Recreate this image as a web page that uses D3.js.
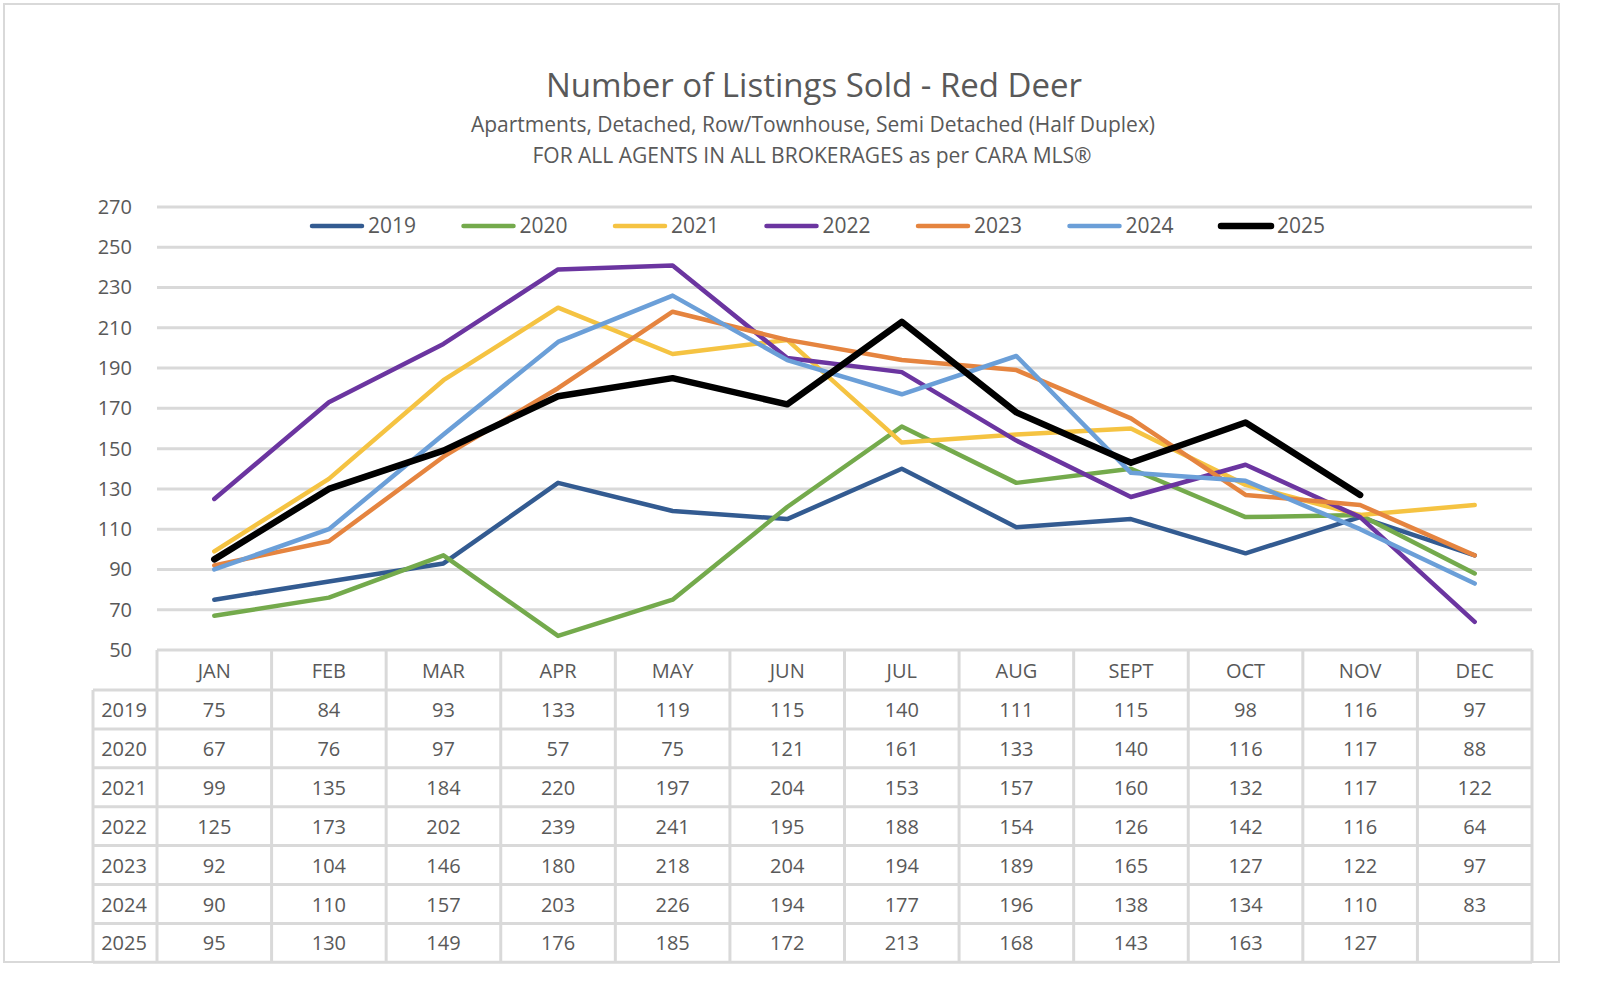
<!DOCTYPE html>
<html lang="en">
<head>
    <meta charset="UTF-8">
    <title>Number of Listings Sold - Red Deer</title>
    <script src="https://cdn.jsdelivr.net/npm/d3@7"></script>
    <style>
        html, body { margin: 0; background: #fff; overflow: hidden; }
        svg { display: block; }
        text { font-family: "Open Sans", "Noto Sans", sans-serif; fill: #595959; }
    </style>
</head>
<body>
    <svg width="1597" height="988"></svg>
    <script>
        var months = ["JAN","FEB","MAR","APR","MAY","JUN","JUL","AUG","SEPT","OCT","NOV","DEC"];
        var years = ["2019","2020","2021","2022","2023","2024","2025"];
        var yTicks = [50,70,90,110,130,150,170,190,210,230,250,270];

        var s2019 = [75,84,93,133,119,115,140,111,115,98,116,97];
        var s2020 = [67,76,97,57,75,121,161,133,140,116,117,88];
        var s2021 = [99,135,184,220,197,204,153,157,160,132,117,122];
        var s2022 = [125,173,202,239,241,195,188,154,126,142,116,64];
        var s2023 = [92,104,146,180,218,204,194,189,165,127,122,97];
        var s2024 = [90,110,157,203,226,194,177,196,138,134,110,83];
        var s2025 = [95,130,149,176,185,172,213,168,143,163,127,null];

        var colors = ["#335b91","#74aa4c","#f5c342","#6b35a0","#e5843f","#6b9fd8","#000000"];
        var series = [s2019,s2020,s2021,s2022,s2023,s2024,s2025];

        var svg = d3.select("svg");
        var plotLeft = 157, plotRight = 1532, plotTop = 207, plotBottom = 650;

        // outer frame
        svg.append("rect").attr("x",4).attr("y",4).attr("width",1555).attr("height",958)
            .attr("fill","none").attr("stroke","#d9d9d9").attr("stroke-width",2);

        svg.append("text").attr("x",814).attr("y",97).attr("text-anchor","middle")
            .attr("font-size","33px").text("Number of Listings Sold - Red Deer");
        svg.append("text").attr("x",813).attr("y",132).attr("text-anchor","middle")
            .attr("font-size","21px").text("Apartments, Detached, Row/Townhouse, Semi Detached (Half Duplex)");
        svg.append("text").attr("x",812).attr("y",163).attr("text-anchor","middle")
            .attr("font-size","21px").text("FOR ALL AGENTS IN  ALL BROKERAGES as per CARA MLS®");

        var x = d3.scaleBand().domain(months).range([plotLeft, plotRight]);
        var y = d3.scaleLinear().domain([50, 270]).range([plotBottom, plotTop]);

        // gridlines
        svg.append("g").selectAll("line").data(yTicks.slice(1)).enter().append("line")
            .attr("x1", plotLeft).attr("x2", plotRight)
            .attr("y1", function(d){ return y(d); }).attr("y2", function(d){ return y(d); })
            .attr("stroke", "#d9d9d9").attr("stroke-width", 3);

        var yAxis = svg.append("g").attr("transform","translate(" + (plotLeft - 25) + ",0)")
            .call(d3.axisLeft(y).tickValues(yTicks).tickSize(0).tickPadding(0));
        yAxis.select(".domain").remove();
        yAxis.selectAll("text").attr("font-size","20px").attr("fill","#595959")
            .attr("font-family","\"Open Sans\", sans-serif");

        // lines
        var line = d3.line()
            .defined(function(d){ return d != null; })
            .x(function(d, i){ return x(months[i]) + x.bandwidth()/2; })
            .y(function(d){ return y(d); });

        series.forEach(function(s, i) {
            svg.append("path").datum(s)
                .attr("fill","none")
                .attr("stroke", colors[i])
                .attr("stroke-width", i == 6 ? 6.5 : 4.5)
                .attr("stroke-linejoin","round")
                .attr("stroke-linecap","round")
                .attr("d", line);
        });

        // legend
        var legend = svg.append("g");
        years.forEach(function(yr, i) {
            var lx = 312 + i * 151.5;
            legend.append("line").attr("x1", lx).attr("x2", lx + 50).attr("y1", 226).attr("y2", 226)
                .attr("stroke", colors[i]).attr("stroke-width", i == 6 ? 6.5 : 4.5)
                .attr("stroke-linecap","round");
            legend.append("text").attr("x", lx + 56).attr("y", 233).attr("font-size","21px").text(yr);
        });

        // data table
        var rowH = 38.9, headTop = 650, headH = 40;
        var tbl = svg.append("g");
        var gridCol = "#d9d9d9";
        var tableBottom = headTop + headH + rowH * years.length;

        months.forEach(function(m) {
            tbl.append("text").attr("x", x(m) + x.bandwidth()/2).attr("y", headTop + 28)
                .attr("text-anchor","middle").attr("font-size","20px").text(m);
        });
        years.forEach(function(yr, r) {
            var ry = headTop + headH + r * rowH;
            tbl.append("text").attr("x", 124).attr("y", ry + 27)
                .attr("text-anchor","middle").attr("font-size","20px").text(yr);
            series[r].forEach(function(v, c) {
                if (v == null) return;
                tbl.append("text").attr("x", x(months[c]) + x.bandwidth()/2).attr("y", ry + 27)
                    .attr("text-anchor","middle").attr("font-size","20px").text(v);
            });
        });

        // table lines
        tbl.append("line").attr("x1", plotLeft).attr("x2", plotRight).attr("y1", headTop).attr("y2", headTop)
            .attr("stroke", gridCol).attr("stroke-width", 3);
        d3.range(years.length + 1).forEach(function(r) {
            var ry = headTop + headH + r * rowH;
            tbl.append("line").attr("x1", 93).attr("x2", plotRight).attr("y1", ry).attr("y2", ry)
                .attr("stroke", gridCol).attr("stroke-width", 3);
        });
        tbl.append("line").attr("x1", 93).attr("x2", 93).attr("y1", headTop + headH).attr("y2", tableBottom)
            .attr("stroke", gridCol).attr("stroke-width", 3);
        months.forEach(function(m) {
            tbl.append("line").attr("x1", x(m)).attr("x2", x(m)).attr("y1", headTop).attr("y2", tableBottom)
                .attr("stroke", gridCol).attr("stroke-width", 3);
        });
        tbl.append("line").attr("x1", plotRight).attr("x2", plotRight).attr("y1", headTop).attr("y2", tableBottom)
            .attr("stroke", gridCol).attr("stroke-width", 3);
    </script>
</body>
</html>
